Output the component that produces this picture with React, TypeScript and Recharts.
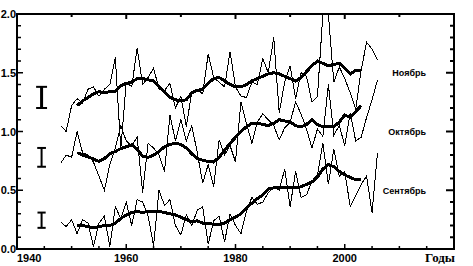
import React from 'react';
import { ComposedChart, Line, XAxis, YAxis, ReferenceLine } from 'recharts';

// years of the annual (thin) curves
const years = [
  1948, 1949, 1950, 1951, 1952, 1953, 1954, 1955, 1956, 1957,
  1958, 1959, 1960, 1961, 1962, 1963, 1964, 1965, 1966, 1967,
  1968, 1969, 1970, 1971, 1972, 1973, 1974, 1975, 1976, 1977,
  1978, 1979, 1980, 1981, 1982, 1983, 1984, 1985, 1986, 1987,
  1988, 1989, 1990, 1991, 1992, 1993, 1994, 1995, 1996, 1997,
  1998, 1999, 2000, 2001, 2002, 2003, 2004, 2005, 2006,
];

// 1996-1997 run off the top of the frame, read as 2.0
const novAnnual = [
  1.05, 1.0, 1.22, 1.28, 1.24, 1.36, 1.38, 1.3, 1.36, 1.4,
  1.63, 0.85, 1.42, 1.38, 1.71, 1.4, 1.46, 1.54, 1.36, 1.35,
  1.41, 1.2, 1.3, 1.04, 1.34, 1.36, 1.32, 1.66, 1.46, 1.42,
  1.38, 1.68, 1.38, 1.3, 1.29, 1.42, 1.4, 1.62, 1.5, 1.8,
  1.16, 1.42, 1.56, 1.28, 1.5, 1.47, 1.25, 1.3, 2.0, 2.0,
  1.42, 1.55, 1.45, 1.33, 1.19, 1.52, 1.76, 1.7, 1.61,
];

const octAnnual = [
  0.73, 0.8, 0.78, 1.0, 0.82, 0.8, 0.74, 0.62, 0.5, 0.72,
  0.86, 1.05, 0.92, 0.88, 0.95, 0.48, 0.9, 0.86, 0.8, 0.66,
  1.14, 0.92, 1.1, 0.92, 1.05, 0.82, 0.56, 0.72, 0.53, 0.93,
  0.8, 0.88, 0.74, 1.25, 1.07, 0.9, 1.08, 1.15, 1.1, 1.05,
  0.93, 1.03, 1.08, 1.25, 1.15, 1.02, 0.86, 1.02, 0.96, 1.4,
  0.97, 1.05, 0.88, 1.16, 0.92, 0.95, 1.12, 1.27, 1.44,
];

const sepAnnual = [
  0.23, 0.19, 0.25, 0.13, 0.25, 0.22, 0.02, 0.22, 0.28, 0.02,
  0.36, 0.26, 0.4, 0.2, 0.42, 0.4, 0.28, 0.03, 0.5, 0.37,
  0.42, 0.2, 0.12, 0.29, 0.2, 0.33, 0.36, 0.04, 0.24, 0.28,
  0.06, 0.3, 0.2, 0.13, 0.32, 0.44, 0.38, 0.4, 0.48, 0.53,
  0.5, 0.68, 0.36, 0.66, 0.44, 0.46, 0.58, 0.63, 0.9, 0.55,
  0.85, 0.62, 0.66, 0.36, 0.45, 0.55, 0.62, 0.31, 0.82,
];

// smoothed (thick) curves, 1951..2003
const smoothStart = 1951;

const novSmooth = [
  1.22, 1.26, 1.29, 1.32, 1.34, 1.33, 1.34, 1.34, 1.39, 1.41,
  1.42, 1.45, 1.45, 1.44, 1.43, 1.38, 1.34, 1.29, 1.27, 1.26,
  1.27, 1.33, 1.35, 1.36, 1.41, 1.45, 1.46, 1.43, 1.4, 1.38,
  1.38, 1.4, 1.43, 1.45, 1.47, 1.49, 1.5, 1.49, 1.47, 1.45,
  1.43, 1.46, 1.51, 1.56, 1.6, 1.58, 1.56, 1.57, 1.58, 1.54,
  1.49, 1.52, 1.52,
];

const octSmooth = [
  0.82, 0.8, 0.785, 0.765, 0.745, 0.77, 0.81, 0.83, 0.855, 0.87,
  0.885, 0.85, 0.79, 0.78, 0.8, 0.83, 0.87, 0.89, 0.9, 0.89,
  0.86, 0.81, 0.77, 0.755, 0.745, 0.74, 0.78, 0.84, 0.9, 0.95,
  1.0, 1.04, 1.07, 1.07, 1.06, 1.05, 1.07, 1.1, 1.09, 1.08,
  1.05, 1.04, 1.06, 1.1, 1.06, 1.04, 1.04, 1.04, 1.08, 1.14,
  1.12, 1.17, 1.22,
];

const sepSmooth = [
  0.2, 0.2, 0.19, 0.18, 0.19, 0.2, 0.2, 0.22, 0.26, 0.29,
  0.31, 0.32, 0.31, 0.32, 0.32, 0.32, 0.31, 0.3, 0.29, 0.27,
  0.25, 0.23, 0.24, 0.22, 0.22, 0.21, 0.21, 0.22, 0.25, 0.27,
  0.3, 0.35, 0.39, 0.43, 0.46, 0.51, 0.52, 0.52, 0.52, 0.52,
  0.52, 0.53, 0.55, 0.57, 0.61, 0.68, 0.72, 0.7, 0.66, 0.63,
  0.61, 0.59, 0.59,
];

// error bars at the left: centre, half range, cap half width (years), line width
const errYear = 1944.5;
const errMid = [1.29, 0.78, 0.245];
const errHalf = [0.09, 0.08, 0.065];
const errCap = [1.0, 0.8, 0.75];
const errWidth = [3, 2, 2];

const xTicks = [
  1940, 1945, 1950, 1955, 1960, 1965, 1970, 1975, 1980, 1985,
  1990, 1995, 2000, 2005, 2010, 2015, 2020,
];
const xLabels = [1940, 1960, 1980, 2000];
const yTicks = [
  0, 0.1, 0.2, 0.3, 0.4, 0.5, 0.6, 0.7, 0.8, 0.9, 1.0,
  1.1, 1.2, 1.3, 1.4, 1.5, 1.6, 1.7, 1.8, 1.9, 2.0,
];
const monthLevels = [0.5, 1.0, 1.5];
const monthNames = ['Сентябрь', 'Октябрь', 'Ноябрь'];

const pick = (arr: number[], start: number, year: number) => {
  const i = year - start;
  return i >= 0 && i < arr.length ? arr[i] : null;
};

const data = years.map((year, i) => ({
  year,
  nov: novAnnual[i],
  oct: octAnnual[i],
  sep: sepAnnual[i],
  novS: pick(novSmooth, smoothStart, year),
  octS: pick(octSmooth, smoothStart, year),
  sepS: pick(sepSmooth, smoothStart, year),
}));

const FONT = '"Liberation Sans", Arial, sans-serif';
const isHalf = (v: number) => Math.abs(v * 2 - Math.round(v * 2)) < 1e-6;

const BottomTick = (props: any) => {
  const { x, y, payload } = props;
  const v = payload.value;
  const major = v % 20 === 0;
  return (
    <g>
      <line x1={x} x2={x} y1={y} y2={y - (major ? 5 : 3)} stroke="#000" strokeWidth={1.5} />
      {xLabels.includes(v) && (
        <text
          x={x}
          y={y + 13}
          textAnchor={v === 1940 ? 'start' : 'middle'}
          fontFamily={FONT}
          fontWeight="bold"
          fontSize={11}
          fill="#000"
        >
          {v}
        </text>
      )}
    </g>
  );
};

const TopTick = (props: any) => {
  const x = Number(props.x);
  const y = Number(props.y);
  const major = props.payload.value % 20 === 0;
  return <line x1={x} x2={x} y1={y} y2={y + (major ? 5 : 3)} stroke="#000" strokeWidth={2} />;
};

const LeftTick = (props: any) => {
  const { x, y, payload } = props;
  const v = payload.value;
  const major = isHalf(v);
  return (
    <g>
      <line x1={x} x2={x + (major ? 6 : 4)} y1={y} y2={y} stroke="#000" strokeWidth={1.5} />
      {major && (
        <text x={x - 1} y={y + 4} textAnchor="end" fontFamily={FONT} fontWeight="bold" fontSize={11} fill="#000">
          {v.toFixed(1)}
        </text>
      )}
    </g>
  );
};

const RightTick = (props: any) => {
  const x = Number(props.x);
  const y = Number(props.y);
  const v = props.payload.value;
  const k = monthLevels.findIndex((m) => Math.abs(m - v) < 1e-6);
  return (
    <g>
      <line x1={x} x2={x - (k >= 0 ? 8 : 4)} y1={y} y2={y} stroke="#000" strokeWidth={2} />
      {k >= 0 && (
        <text x={x - 28} y={y + 3.5} textAnchor="end" fontFamily={FONT} fontWeight="bold" fontSize={9} fill="#000">
          {monthNames[k]}
        </text>
      )}
    </g>
  );
};

const YearsLabel = (props: any) => {
  const { viewBox } = props;
  return (
    <text
      x={viewBox.x + viewBox.width + 1}
      y={viewBox.y + 13}
      textAnchor="end"
      fontFamily='"Liberation Serif", "Times New Roman", serif'
      fontWeight="bold"
      fontSize={13}
      fill="#000"
    >
      Годы
    </text>
  );
};

const thin = { stroke: '#000', strokeWidth: 1, dot: false, isAnimationActive: false };
const thick = { stroke: '#000', strokeWidth: 3, dot: false, isAnimationActive: false };

export default function App() {
  return (
    <div style={{ position: 'absolute', left: 0, top: 0, width: 473, height: 266, background: '#fff' }}>
      <style>{'.recharts-line path { shape-rendering: crispEdges; }'}</style>
      <ComposedChart width={473} height={266} data={data} margin={{ top: 13, right: 18, bottom: 0, left: 0 }}>
        <XAxis
          xAxisId="b"
          dataKey="year"
          type="number"
          domain={[1940, 2020]}
          ticks={xTicks}
          interval={0}
          height={17}
          tickSize={0}
          tickMargin={0}
          tickLine={false}
          tick={<BottomTick />}
          axisLine={{ stroke: '#000', strokeWidth: 2 }}
          label={{ value: 'Годы', content: <YearsLabel /> }}
        />
        <XAxis
          xAxisId="t"
          dataKey="year"
          orientation="top"
          type="number"
          domain={[1940, 2020]}
          ticks={xTicks}
          height={1}
          tickSize={0}
          tickMargin={0}
          tickLine={false}
          tick={<TopTick />}
          axisLine={{ stroke: '#000', strokeWidth: 2 }}
        />
        <YAxis
          yAxisId="l"
          type="number"
          domain={[0, 2]}
          ticks={yTicks}
          interval={0}
          width={17}
          tickSize={0}
          tickMargin={0}
          tickLine={false}
          tick={<LeftTick />}
          axisLine={{ stroke: '#000', strokeWidth: 2 }}
        />
        <YAxis
          yAxisId="r"
          orientation="right"
          type="number"
          domain={[0, 2]}
          ticks={yTicks}
          interval={0}
          width={1}
          tickSize={0}
          tickMargin={0}
          tickLine={false}
          tick={<RightTick />}
          axisLine={{ stroke: '#000', strokeWidth: 2 }}
        />
        <Line dataKey="nov" xAxisId="b" yAxisId="l" {...thin} />
        <Line dataKey="oct" xAxisId="b" yAxisId="l" {...thin} />
        {/* September is drawn on the top/right pair (same domains) so those frame axes are used */}
        <Line dataKey="sep" xAxisId="t" yAxisId="r" {...thin} />
        <Line dataKey="novS" xAxisId="b" yAxisId="l" {...thick} />
        <Line dataKey="octS" xAxisId="b" yAxisId="l" {...thick} />
        <Line dataKey="sepS" xAxisId="t" yAxisId="r" {...thick} />
        {errMid.map((m, i) => (
          <ReferenceLine
            key={`ev-${i}`}
            xAxisId="b"
            yAxisId="l"
            segment={[{ x: errYear, y: m - errHalf[i] }, { x: errYear, y: m + errHalf[i] }]}
            stroke="#000"
            strokeWidth={errWidth[i]}
            ifOverflow="visible"
          />
        ))}
        {errMid.map((m, i) =>
          [-1, 1].map((s) => (
            <ReferenceLine
              key={`ec-${i}-${s}`}
              xAxisId="b"
              yAxisId="l"
              segment={[{ x: errYear - errCap[i], y: m + s * errHalf[i] }, { x: errYear + errCap[i], y: m + s * errHalf[i] }]}
              stroke="#000"
              strokeWidth={2}
              ifOverflow="visible"
            />
          ))
        )}
      </ComposedChart>
      {/* plot frame */}
      <div
        style={{
          position: 'absolute',
          left: 16,
          top: 13,
          width: 439,
          height: 237,
          boxSizing: 'border-box',
          border: '2px solid #000',
          pointerEvents: 'none',
        }}
      />
    </div>
  );
}
